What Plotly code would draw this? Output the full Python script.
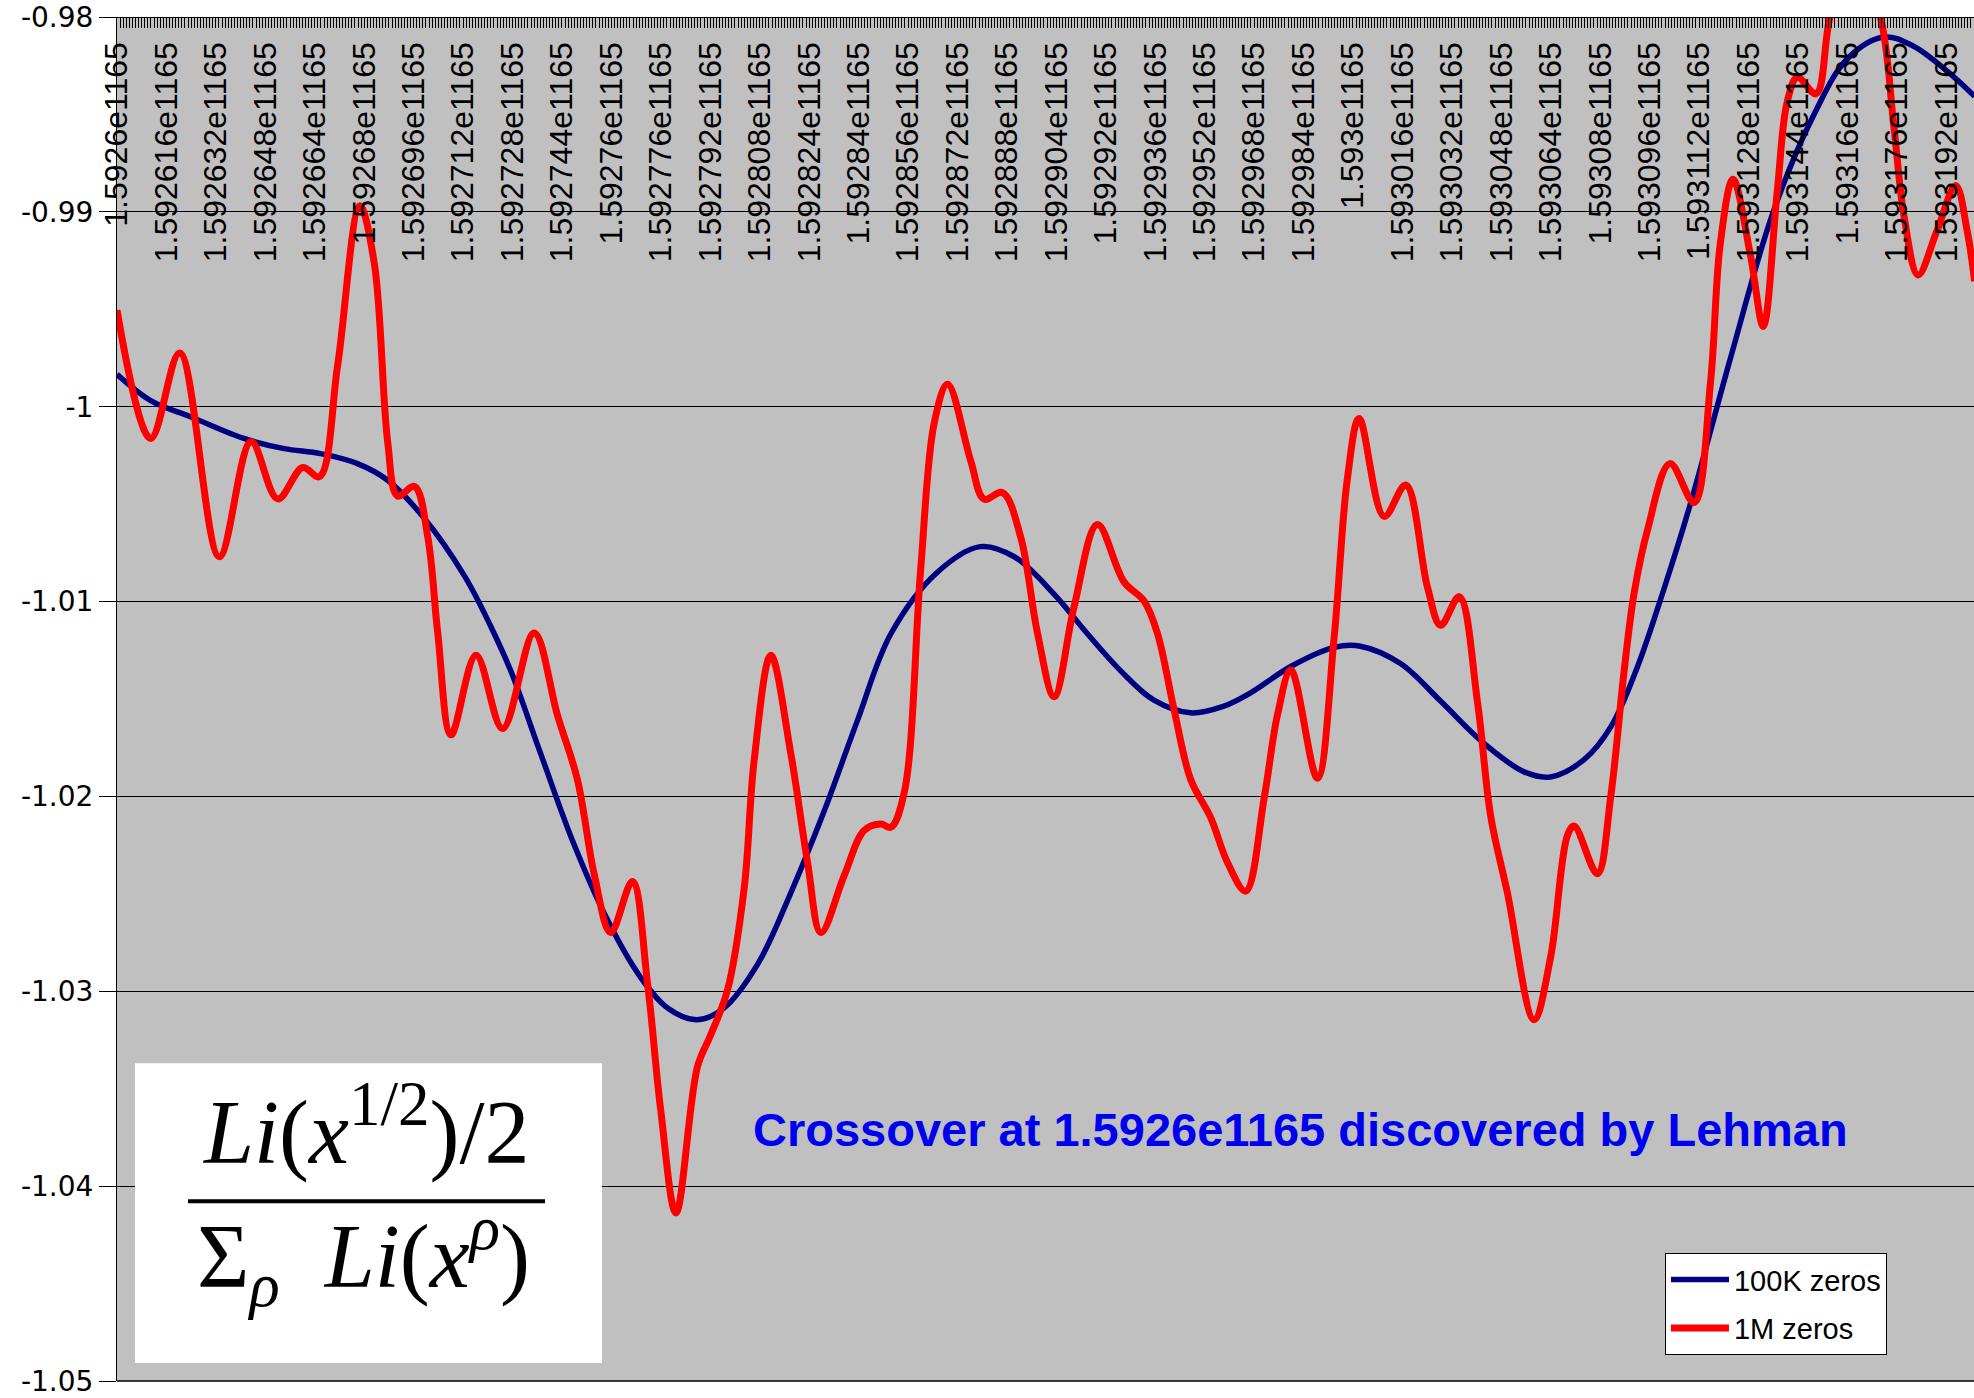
import plotly.graph_objects as go

# x value = (X_BASE + offset) * 1e1159
X_BASE = 1592600
X_SPAN = 601

x_tick_labels = [
    "1.5926e1165", "1.592616e1165", "1.592632e1165", "1.592648e1165", "1.592664e1165",
    "1.59268e1165", "1.592696e1165", "1.592712e1165", "1.592728e1165", "1.592744e1165",
    "1.59276e1165", "1.592776e1165", "1.592792e1165", "1.592808e1165", "1.592824e1165",
    "1.59284e1165", "1.592856e1165", "1.592872e1165", "1.592888e1165", "1.592904e1165",
    "1.59292e1165", "1.592936e1165", "1.592952e1165", "1.592968e1165", "1.592984e1165",
    "1.593e1165", "1.593016e1165", "1.593032e1165", "1.593048e1165", "1.593064e1165",
    "1.59308e1165", "1.593096e1165", "1.593112e1165", "1.593128e1165", "1.593144e1165",
    "1.59316e1165", "1.593176e1165", "1.593192e1165",
]
x_tick_offsets = [0, 16, 32, 48, 64, 80, 96, 112, 128, 144, 160, 176, 192, 208, 224, 240,
                  256, 272, 288, 304, 320, 336, 352, 368, 384, 400, 416, 432, 448, 464,
                  480, 496, 512, 528, 544, 560, 576, 592]

y_tick_vals = [-1.05, -1.04, -1.03, -1.02, -1.01, -1.0, -0.99, -0.98]
y_tick_labels = ["-1.05", "-1.04", "-1.03", "-1.02", "-1.01", "-1", "-0.99", "-0.98"]

# Series "100K zeros"
x_100k = [0.0, 10.9, 24.0, 41.1, 54.1, 65.9, 77.8, 87.5, 99.3, 112.4,
          120.9, 127.5, 137.2, 147.8, 158.8, 169.4, 178.4, 187.7, 196.3, 207.3,
          217.9, 228.9, 239.5, 250.5, 265.6, 279.4, 290.4, 303.4, 314.0, 325.0,
          335.6, 347.4, 358.0, 367.0, 380.0, 393.9, 402.4, 415.5, 428.5, 442.3,
          455.4, 463.9, 474.9, 483.5, 492.0, 500.6, 509.2, 522.2, 536.0, 549.1,
          560.1, 571.9, 581.3, 592.3, 601.2]
y_100k = [-0.99834, -0.99969, -1.00053, -1.00163, -1.00215, -1.00241, -1.00292, -1.00376, -1.00570, -1.00867,
          -1.01125, -1.01358, -1.01784, -1.02242, -1.02636, -1.02927, -1.03088, -1.03146, -1.03088, -1.02862,
          -1.02501, -1.02074, -1.01616, -1.01164, -1.00848, -1.00718, -1.00770, -1.00964, -1.01164, -1.01358,
          -1.01506, -1.01571, -1.01538, -1.01467, -1.01332, -1.01235, -1.01229, -1.01319, -1.01513, -1.01726,
          -1.01874, -1.01900, -1.01810, -1.01642, -1.01338, -1.00938, -1.00499, -0.99750, -0.99001, -0.98504,
          -0.98213, -0.98103, -0.98149, -0.98278, -0.98407]

# Series "1M zeros"
x_1m = [0.0, 10.9, 20.3, 33.1, 43.4, 52.0, 60.1, 65.5, 71.4, 78.6,
        83.3, 87.6, 90.8, 96.3, 100.6, 103.8, 108.1, 116.2, 124.8, 135.0,
        142.6, 149.0, 154.5, 159.8, 166.8, 171.7, 176.0, 180.9, 187.9, 192.2,
        197.6, 203.0, 206.2, 211.6, 218.1, 223.5, 227.8, 235.4, 241.8, 247.2,
        250.5, 254.8, 260.1, 264.5, 268.8, 276.3, 280.6, 286.6, 292.5, 297.9,
        303.3, 309.7, 317.3, 325.9, 332.4, 336.7, 342.1, 347.5, 354.0, 359.4,
        365.3, 371.3, 375.6, 379.9, 388.5, 393.9, 398.2, 402.0, 410.1, 417.1,
        424.1, 428.4, 434.4, 440.3, 444.6, 450.0, 458.6, 464.0, 469.4, 471.6,
        479.1, 483.4, 487.8, 491.0, 495.3, 502.6, 510.4, 515.7, 518.9, 523.0,
        528.7, 532.8, 537.3, 540.5, 543.8, 549.9, 554.4, 562.1, 570.7, 575.1,
        578.4, 582.9, 589.0, 595.1, 598.8, 601.2]
y_1m = [-0.99504, -1.00163, -0.99724, -1.00770, -1.00180, -1.00473, -1.00312, -1.00359, -0.99789, -0.98969,
        -0.99266, -1.00180, -1.00458, -1.00409, -1.00671, -1.01161, -1.01684, -1.01276, -1.01652, -1.01161,
        -1.01586, -1.01913, -1.02404, -1.02699, -1.02437, -1.02960, -1.03614, -1.04138, -1.03385, -1.03222,
        -1.02993, -1.02468, -1.01816, -1.01276, -1.01783, -1.02339, -1.02699, -1.02404, -1.02175, -1.02142,
        -1.02158, -1.01979, -1.00834, -1.00082, -0.99885, -1.00278, -1.00474, -1.00441, -1.00671, -1.01161,
        -1.01488, -1.01030, -1.00605, -1.00899, -1.00997, -1.01161, -1.01554, -1.01913, -1.02110, -1.02339,
        -1.02486, -1.02005, -1.01580, -1.01351, -1.01907, -1.01187, -1.00370, -1.00060, -1.00563, -1.00402,
        -1.00925, -1.01122, -1.00975, -1.01515, -1.02103, -1.02495, -1.03146, -1.02823, -1.02201, -1.02152,
        -1.02397, -1.02005, -1.01351, -1.00957, -1.00635, -1.00292, -1.00492, -0.99879, -0.99162, -0.98833,
        -0.99227, -0.99588, -0.98898, -0.98439, -0.98310, -0.98394, -0.98000, -0.97650, -0.98000, -0.98568,
        -0.99027, -0.99324, -0.99098, -0.98865, -0.99098, -0.99356]

FONT = "Liberation Sans, Arial, sans-serif"
WIDE = "DejaVu Sans, Verdana, sans-serif"
SERIF = "Liberation Serif, Times New Roman, serif"

fig = go.Figure()
fig.add_trace(go.Scatter(
    x=[X_BASE + v for v in x_100k], y=y_100k, mode="lines", name="100K zeros",
    legendgroup="g1",
    line=dict(color="#000080", width=5.5, shape="spline", smoothing=1.0),
))
fig.add_trace(go.Scatter(
    x=[X_BASE + v for v in x_1m], y=y_1m, mode="lines", name="1M zeros",
    legendgroup="g2",
    line=dict(color="#FF0000", width=7, shape="spline", smoothing=1.0),
))

TOP = 17
BOTTOM = 1381
fig.update_layout(
    width=1974, height=1398,
    margin=dict(l=117, r=0, t=TOP, b=1398 - BOTTOM, autoexpand=False),
    paper_bgcolor="white", plot_bgcolor="#C0C0C0",
    showlegend=True,
    legend=dict(
        x=0.8336, y=0.0938, xanchor="left", yanchor="top",
        bgcolor="white", bordercolor="black", borderwidth=1,
        font=dict(family=FONT, size=29, color="black"),
        tracegroupgap=8, itemwidth=58,
    ),
    xaxis=dict(
        range=[X_BASE, X_BASE + X_SPAN], side="top", anchor="free", position=1,
        tickmode="array", tickvals=[X_BASE + v for v in x_tick_offsets], ticktext=x_tick_labels,
        tickangle=-90, ticklabelposition="inside", ticklabeloverflow="allow",
        ticks="inside", ticklen=10, tickcolor="black", tickwidth=1,
        showline=True, linecolor="black", linewidth=1, mirror=True,
        showgrid=False, zeroline=False,
        tickfont=dict(family=FONT, size=32, color="black"),
        minor=dict(tickmode="linear", tick0=X_BASE, dtick=1, ticks="inside", ticklen=10,
                   tickcolor="black", tickwidth=1, showgrid=False),
    ),
    yaxis=dict(
        range=[-1.05, -0.98],
        tickmode="array", tickvals=y_tick_vals, ticktext=y_tick_labels,
        ticks="outside", ticklen=17, tickcolor="black", tickwidth=1,
        ticklabeloverflow="allow",
        showline=True, linecolor="black", linewidth=1,
        showgrid=True, gridcolor="black", gridwidth=1, zeroline=False,
        tickfont=dict(family=WIDE, size=28, color="black"),
    ),
)

def px(xf):
    return (xf - 117) / 1857.0

def py(yf):
    return (1381 - yf) / 1365.0

# bottom border of the plot area
fig.add_shape(type="line", xref="paper", yref="paper", x0=0, x1=1, y0=0, y1=0,
              line=dict(color="black", width=1.5), layer="above")

# formula box
fig.add_shape(type="rect", xref="paper", yref="paper",
              x0=px(135), x1=px(602), y0=py(1363), y1=py(1063),
              fillcolor="white", line=dict(width=0), layer="above")
fig.add_shape(type="line", xref="paper", yref="paper",
              x0=px(188), x1=px(545), y0=py(1201), y1=py(1201),
              line=dict(color="black", width=4), layer="above")

fig.add_annotation(xref="paper", yref="paper", x=px(366), y=py(1126),
                   xanchor="center", yanchor="middle", showarrow=False,
                   text="<i>Li</i>(<i>x</i><sup>1/2</sup>)/2",
                   font=dict(family=SERIF, size=90, color="black"))
fig.add_annotation(xref="paper", yref="paper", x=px(363), y=py(1256),
                   xanchor="center", yanchor="middle", showarrow=False,
                   text="Σ<sub><i>ρ</i></sub>  <i>Li</i>(<i>x</i><sup><i>ρ</i></sup>)",
                   font=dict(family=SERIF, size=90, color="black"))

fig.add_annotation(xref="paper", yref="paper", x=px(1300), y=py(1129),
                   xanchor="center", yanchor="middle", showarrow=False,
                   text="<b>Crossover at 1.5926e1165 discovered by Lehman</b>",
                   font=dict(family=FONT, size=47, color="#0000F0"))

fig.write_html("out.html")
